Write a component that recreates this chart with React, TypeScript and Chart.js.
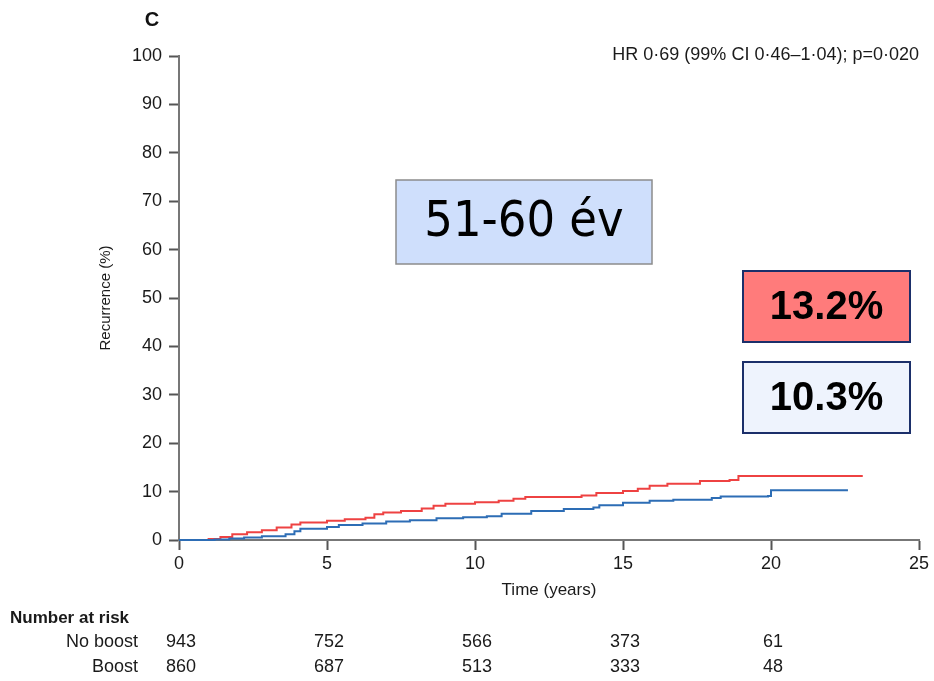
import React, { useEffect, useRef } from "react";
import { Chart, registerables } from "chart.js";

Chart.register(...registerables);

// ---- data ----
const noBoostTime = [0, 1.0, 1.4, 1.8, 2.3, 2.8, 3.3, 3.8, 4.1, 5.0, 5.6, 6.3, 6.6, 6.9, 7.5, 8.2, 8.6, 9.0, 10.0, 10.8, 11.3, 11.7, 13.6, 14.1, 15.0, 15.5, 15.9, 16.5, 17.6, 18.6, 18.9, 23.1];
const noBoostRec = [0, 0.2, 0.6, 1.2, 1.6, 2.0, 2.6, 3.2, 3.6, 4.0, 4.3, 4.6, 5.3, 5.7, 6.0, 6.5, 7.1, 7.5, 7.8, 8.1, 8.5, 8.9, 9.2, 9.7, 10.1, 10.6, 11.2, 11.6, 12.2, 12.4, 13.2, 13.2];
const boostTime = [0, 1.2, 1.7, 2.2, 2.8, 3.6, 3.9, 4.1, 5.0, 5.4, 6.2, 7.0, 7.8, 8.7, 9.6, 10.4, 10.9, 11.9, 13.0, 14.0, 14.2, 15.0, 15.9, 16.7, 18.0, 18.3, 19.9, 20.0, 22.6];
const boostRec = [0, 0.1, 0.3, 0.5, 0.8, 1.2, 1.8, 2.3, 2.7, 3.1, 3.4, 3.8, 4.1, 4.5, 4.7, 4.9, 5.4, 6.0, 6.4, 6.7, 7.2, 7.7, 8.1, 8.3, 8.7, 9.0, 9.1, 10.3, 10.3];

const riskTimes = [0, 5, 10, 15, 20];
const riskNoBoost = [943, 752, 566, 373, 61];
const riskBoost = [860, 687, 513, 333, 48];
const groupLabels = ["No boost", "Boost"];
const riskTitle = "Number at risk";
const panelLabel = "C";
const hrText = "HR 0·69 (99% CI 0·46–1·04); p=0·020";
const ageLabel = "51-60 év";
const finalNoBoost = "13.2%";
const finalBoost = "10.3%";
const xTitle = "Time (years)";
const yTitle = "Recurrence (%)";

const FONT = '"Liberation Sans", Arial, sans-serif';
const BOXFONT = '"DejaVu Sans Condensed", "DejaVu Sans", sans-serif';
const TXT = "#1a1a1a";

function drawBox(ctx: CanvasRenderingContext2D, x: number, y: number, w: number, h: number, fill: string, stroke: string, lw: number, text: string, font: string) {
  ctx.fillStyle = fill;
  ctx.fillRect(x, y, w, h);
  ctx.strokeStyle = stroke;
  ctx.lineWidth = lw;
  ctx.strokeRect(x, y, w, h);
  ctx.fillStyle = "#000";
  ctx.font = font;
  ctx.textAlign = "center";
  ctx.textBaseline = "middle";
  ctx.fillText(text, x + w / 2, y + h / 2 + 1);
}

const overlay = {
  id: "overlay",
  afterDraw(chart: any) {
    const ctx: CanvasRenderingContext2D = chart.ctx;
    const xs = chart.scales.x;
    ctx.save();
    ctx.fillStyle = "#111";
    ctx.font = `bold 20px ${FONT}`;
    ctx.textAlign = "center";
    ctx.textBaseline = "middle";
    ctx.fillText(panelLabel, 152, 20);

    ctx.fillStyle = TXT;
    ctx.font = `18px ${FONT}`;
    ctx.textAlign = "right";
    ctx.fillText(hrText, 919, 55);

    // number at risk
    ctx.font = `bold 17px ${FONT}`;
    ctx.textAlign = "left";
    ctx.fillText(riskTitle, 10, 618);
    ctx.font = `18px ${FONT}`;
    const rows = [riskNoBoost, riskBoost];
    const rowY = [642, 667];
    rows.forEach((vals, r) => {
      ctx.textAlign = "right";
      ctx.fillText(groupLabels[r], 138, rowY[r]);
      ctx.textAlign = "center";
      vals.forEach((v, i) => {
        ctx.fillText(String(v), xs.getPixelForValue(riskTimes[i]) + 2, rowY[r]);
      });
    });

    drawBox(ctx, 396, 180, 256, 84, "#cfdffc", "#8c8c8c", 1.5, ageLabel, `50px ${BOXFONT}`);
    drawBox(ctx, 743, 271, 167, 71, "#ff7b7b", "#1b2f6a", 2, finalNoBoost, `bold 40px ${FONT}`);
    drawBox(ctx, 743, 362, 167, 71, "#eef3fd", "#1b2f6a", 2, finalBoost, `bold 40px ${FONT}`);
    ctx.restore();
  },
};

export default function App() {
  const ref = useRef<HTMLCanvasElement>(null);
  useEffect(() => {
    document.body.style.margin = "0";
    const canvas = ref.current!;
    const chart = new Chart(canvas, {
      type: "line",
      data: {
        datasets: [
          {
            label: "No boost",
            data: noBoostTime.map((t, i) => ({ x: t, y: noBoostRec[i] })),
            borderColor: "#ee4242",
            borderWidth: 2,
            stepped: true,
            pointRadius: 0,
            fill: false,
            clip: 4,
            order: 1,
          },
          {
            label: "Boost",
            data: boostTime.map((t, i) => ({ x: t, y: boostRec[i] })),
            borderColor: "#2d6db5",
            borderWidth: 2,
            stepped: true,
            pointRadius: 0,
            fill: false,
            clip: 4,
            order: 0,
          },
        ],
      },
      options: {
        responsive: false,
        animation: false,
        devicePixelRatio: 1,
        layout: { padding: { left: 97, top: 56, right: 15, bottom: 76 } },
        plugins: { legend: { display: false }, tooltip: { enabled: false }, title: { display: false } },
        scales: {
          x: {
            type: "linear",
            min: 0,
            max: 25,
            ticks: { stepSize: 5, color: TXT, font: { family: FONT, size: 18 }, padding: 3 },
            grid: { drawOnChartArea: false, drawTicks: true, tickLength: 10, color: "#555", tickWidth: 2 },
            border: { display: true, color: "#777", width: 2 },
            title: { display: true, text: xTitle, color: TXT, font: { family: FONT, size: 17 }, padding: { top: 0, bottom: 4 } },
            afterFit: (s: any) => { s.height = 65; },
          },
          y: {
            type: "linear",
            min: 0,
            max: 100,
            ticks: { stepSize: 10, color: TXT, font: { family: FONT, size: 18 }, padding: 7 },
            grid: { drawOnChartArea: false, drawTicks: true, tickLength: 10, color: "#555", tickWidth: 2 },
            border: { display: true, color: "#777", width: 2 },
            title: { display: true, text: yTitle, color: TXT, font: { family: FONT, size: 15 }, padding: { top: 0, bottom: 0 } },
            afterFit: (s: any) => { s.width = 82; },
          },
        },
      } as any,
      plugins: [overlay],
    });
    return () => chart.destroy();
  }, []);
  return <canvas ref={ref} width={934} height={681} style={{ display: "block" }} />;
}
